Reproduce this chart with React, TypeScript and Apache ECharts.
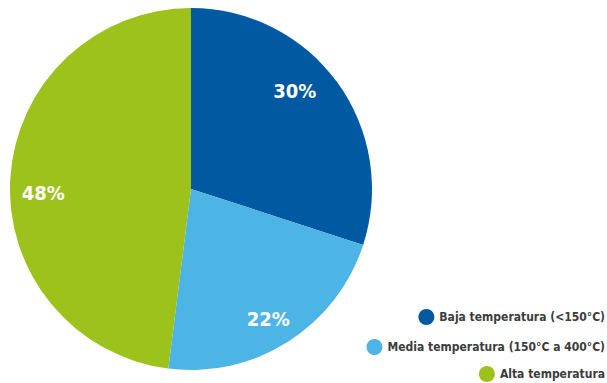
import React, { useEffect, useRef } from "react";
import * as echarts from "echarts";

const categories = ["Baja temperatura (<150°C)", "Media temperatura (150°C a 400°C)", "Alta temperatura"];
const values = [30, 22, 48];

// styling (not data)
const colors = ["#0059A1", "#4DB4E6", "#9DC21B"];
const legendCenters = [317, 347, 374];
// label nudges [dx, dy]
const labelOffsets = [
  [-1, -11],
  [-2, 5],
  [0, 13],
];

const FONT = "'DejaVu Sans Condensed', 'Liberation Sans Narrow', sans-serif";

export default function App() {
  const ref = useRef<HTMLDivElement>(null);
  useEffect(() => {
    if (!ref.current) return;
    const chart = echarts.init(ref.current, null, { renderer: "svg" });
    const data = categories.map((name, i) => ({ name, value: values[i], itemStyle: { color: colors[i] } }));
    chart.setOption({
      animation: false,
      legend: categories.map((name, i) => ({
        data: [name],
        right: 2,
        top: legendCenters[i] - 8,
        padding: 0,
        icon: "circle",
        itemWidth: 16,
        itemHeight: 16,
        textStyle: { fontFamily: FONT, fontWeight: "bold", fontSize: 12, color: "#3c3c3c" },
      })),
      series: [
        {
          type: "pie",
          center: [191, 189],
          radius: [0, 181],
          startAngle: 90,
          clockwise: true,
          label: { show: false },
          labelLine: { show: false },
          silent: true,
          data,
        },
        {
          type: "pie",
          center: [191, 189],
          radius: [110, 180],
          startAngle: 90,
          clockwise: true,
          silent: true,
          itemStyle: { color: "rgba(0,0,0,0)" },
          label: {
            show: true,
            position: "inside",
            formatter: "{c}%",
            color: "#ffffff",
            fontFamily: FONT,
            fontWeight: "bold",
            fontSize: 20,
          },
          labelLine: { show: false },
          data: categories.map((name, i) => ({
            name,
            value: values[i],
            itemStyle: { color: "rgba(0,0,0,0)" },
            label: { offset: labelOffsets[i], padding: i === 0 ? [0, 30, 0, 0] : 0 },
          })),
        },
      ],
    });
    return () => chart.dispose();
  }, []);
  return <div ref={ref} style={{ width: 607, height: 383, position: "absolute", left: 0, top: 0 }} />;
}
